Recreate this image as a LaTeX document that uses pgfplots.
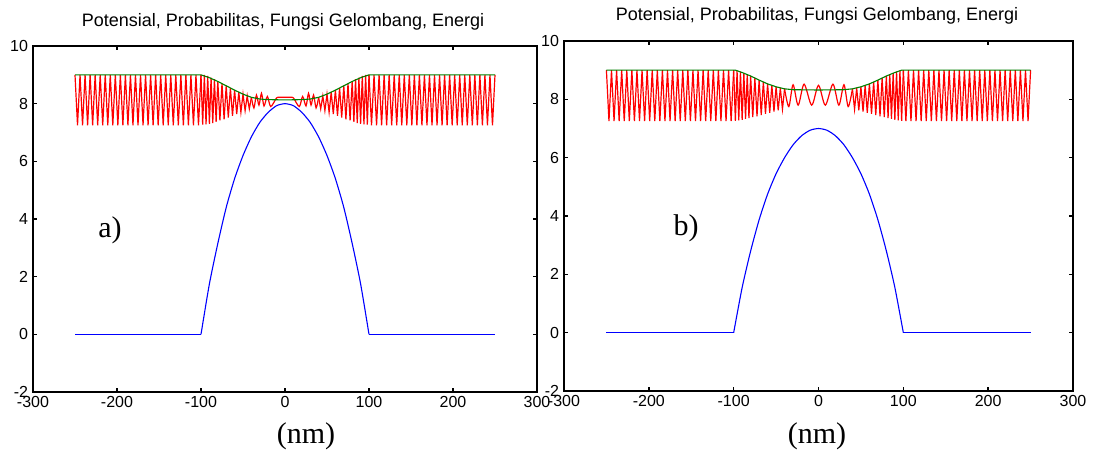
\documentclass[border=0pt]{standalone}
\usepackage{fontspec}
\setmainfont{Liberation Sans}
\newfontfamily\timesfont{Liberation Serif}
\usepackage{pgfplots}
\usepackage{pgfplotstable}
\pgfplotsset{compat=1.18}

\definecolor{mred}{RGB}{255,0,0}
\definecolor{mgreen}{RGB}{0,128,0}
\definecolor{mblue}{RGB}{0,0,255}

% wave function, outer parts (same in both panels)
\pgfplotstableread[row sep=\\]{x y\\
-250 9\\ -247 7.25\\ -244 9\\ -241 7.25\\ -238 9\\ -235 7.25\\ -232 9\\ -229 7.25\\ -226 9\\ -223 7.25\\
-220 9\\ -217 7.25\\ -214 9\\ -211 7.25\\ -208 9\\ -205 7.25\\ -202 9\\ -199 7.25\\ -196 9\\ -193 7.25\\
-190 9\\ -187 7.25\\ -184 9\\ -181 7.25\\ -178 9\\ -175 7.25\\ -172 9\\ -169 7.25\\ -166 9\\ -163 7.25\\
-160 9\\ -157 7.25\\ -154 9\\ -151 7.25\\ -148 9\\ -145 7.25\\ -142 9\\ -139 7.25\\ -136 9\\ -133 7.25\\
-130 9\\ -127 7.25\\ -124 9\\ -121 7.25\\ -118 9\\ -115 7.25\\ -112 9\\ -109 7.25\\ -106 9\\ -103 7.25\\
-100 9\\
}\outerleft
\pgfplotstableread[row sep=\\]{x y\\
100 9\\ 103 7.25\\ 106 9\\ 109 7.25\\ 112 9\\ 115 7.25\\ 118 9\\ 121 7.25\\ 124 9\\ 127 7.25\\
130 9\\ 133 7.25\\ 136 9\\ 139 7.25\\ 142 9\\ 145 7.25\\ 148 9\\ 151 7.25\\ 154 9\\ 157 7.25\\
160 9\\ 163 7.25\\ 166 9\\ 169 7.25\\ 172 9\\ 175 7.25\\ 178 9\\ 181 7.25\\ 184 9\\ 187 7.25\\
190 9\\ 193 7.25\\ 196 9\\ 199 7.25\\ 202 9\\ 205 7.25\\ 208 9\\ 211 7.25\\ 214 9\\ 217 7.25\\
220 9\\ 223 7.25\\ 226 9\\ 229 7.25\\ 232 9\\ 235 7.25\\ 238 9\\ 241 7.25\\ 244 9\\ 247 7.25\\
250 9\\
}\outerright

% panel a
\pgfplotstableread[row sep=\\]{x y\\
-100 9\\ -98 7.27\\ -96 9\\ -94 7.28\\ -92 8.96\\ -90 7.3\\ -88 8.9\\ -86 7.33\\ -84 8.85\\ -82 7.37\\
-80 8.78\\ -77.5 7.42\\ -75 8.7\\ -72.5 7.46\\ -70 8.62\\ -67.5 7.52\\ -65 8.55\\ -62.5 7.58\\ -60 8.47\\
-57.5 7.64\\ -55 8.4\\ -52.5 7.7\\ -50 8.33\\ -47.5 7.76\\ -45 8.27\\ -42.5 7.82\\ -40 8.22\\
}\transaL
\pgfplotstableread[row sep=\\]{x y\\
40 8.22\\ 42.5 7.82\\ 45 8.27\\ 47.5 7.76\\ 50 8.33\\ 52.5 7.7\\ 55 8.4\\ 57.5 7.64\\ 60 8.47\\
62.5 7.58\\ 65 8.55\\ 67.5 7.52\\ 70 8.62\\ 72.5 7.46\\ 75 8.7\\ 77.5 7.42\\ 80 8.78\\ 82 7.37\\
84 8.85\\ 86 7.33\\ 88 8.9\\ 90 7.3\\ 92 8.96\\ 94 7.28\\ 96 9\\ 98 7.27\\ 100 9\\
}\transaR
\pgfplotstableread[row sep=\\]{x y\\
-40 8.22\\ -37 7.85\\ -34 8.3\\ -31 7.95\\ -28 8.36\\ -25 7.92\\ -21 8.25\\ -17 7.9\\ -10 8.2\\ -6 8.22\\
6 8.22\\ 10 8.2\\ 17 7.9\\ 21 8.25\\ 25 7.92\\ 28 8.36\\ 31 7.95\\ 34 8.3\\ 37 7.85\\ 40 8.22\\
}\centera
\pgfplotstableread[row sep=\\]{x y\\
-250 9\\ -100 9\\ -90 8.9\\ -80 8.77\\ -70 8.62\\ -60 8.47\\ -50 8.33\\ -40 8.22\\ -30 8.16\\ -20 8.14\\
0 8.13\\ 20 8.14\\ 30 8.16\\ 40 8.22\\ 50 8.33\\ 60 8.47\\ 70 8.62\\ 80 8.77\\ 90 8.9\\ 100 9\\ 250 9\\
}\proba
\pgfplotstableread[row sep=\\]{x y\\
-100 0\\ -90 1.75\\ -80 3.15\\ -70 4.4\\ -60 5.4\\ -50 6.2\\ -40 6.85\\ -30 7.35\\ -20 7.7\\ -10 7.93\\
0 8\\ 10 7.93\\ 20 7.7\\ 30 7.35\\ 40 6.85\\ 50 6.2\\ 60 5.4\\ 70 4.4\\ 80 3.15\\ 90 1.75\\ 100 0\\
}\pota

% panel b
\pgfplotstableread[row sep=\\]{x y\\
-100 9\\ -98 7.26\\ -96 8.98\\ -94 7.28\\ -92 8.95\\ -90 7.3\\ -88 8.9\\ -86 7.33\\ -84 8.85\\ -82 7.36\\
-80 8.8\\ -77.5 7.39\\ -75 8.73\\ -72.5 7.42\\ -70 8.66\\ -67.5 7.46\\ -65 8.6\\ -62.5 7.5\\ -60 8.53\\
-57.5 7.54\\ -55 8.48\\ -52.5 7.58\\ -50 8.43\\ -47.5 7.62\\ -45 8.39\\ -42.5 7.66\\ -40 8.36\\
}\transbL
\pgfplotstableread[row sep=\\]{x y\\
40 8.36\\ 42.5 7.66\\ 45 8.39\\ 47.5 7.62\\ 50 8.43\\ 52.5 7.58\\ 55 8.48\\ 57.5 7.54\\ 60 8.53\\
62.5 7.5\\ 65 8.6\\ 67.5 7.46\\ 70 8.66\\ 72.5 7.42\\ 75 8.73\\ 77.5 7.39\\ 80 8.8\\ 82 7.36\\
84 8.85\\ 86 7.33\\ 88 8.9\\ 90 7.3\\ 92 8.95\\ 94 7.28\\ 96 8.98\\ 98 7.26\\ 100 9\\
}\transbR
\pgfplotstableread[row sep=\\]{x y\\
-40 8.36\\ -35 7.75\\ -30 8.5\\ -24 7.8\\ -17 8.52\\ -8 7.8\\ 0 8.48\\ 8 7.8\\ 17 8.52\\ 24 7.8\\
30 8.5\\ 35 7.75\\ 40 8.36\\
}\centerb
\pgfplotstableread[row sep=\\]{x y\\
-250 9\\ -98 9\\ -90 8.92\\ -80 8.8\\ -70 8.66\\ -60 8.53\\ -50 8.43\\ -40 8.36\\ -30 8.33\\ 0 8.32\\
30 8.33\\ 40 8.36\\ 50 8.43\\ 60 8.53\\ 70 8.66\\ 80 8.8\\ 90 8.92\\ 98 9\\ 250 9\\
}\probb
\pgfplotstableread[row sep=\\]{x y\\
-100 0\\ -90 1.55\\ -80 2.8\\ -70 3.87\\ -60 4.75\\ -50 5.45\\ -40 6.0\\ -30 6.44\\ -20 6.75\\ -10 6.94\\
0 7\\ 10 6.94\\ 20 6.75\\ 30 6.44\\ 40 6.0\\ 50 5.45\\ 60 4.75\\ 70 3.87\\ 80 2.8\\ 90 1.55\\ 100 0\\
}\potb

\pgfplotsset{panel/.style={
  scale only axis, anchor=south west,
  xmin=-300, xmax=300, ymin=-2, ymax=10,
  xtick={-300,-200,...,300}, ytick={-2,0,...,10},
  tick align=inside, major tick length=4pt,
  every axis/.append style={line width=2pt},
  axis line style={line width=2pt},
  every tick/.style={black, line width=1.4pt},
  tick label style={font=\fontsize{16}{16}\selectfont},
  /pgf/number format/assume math mode=true,
  xticklabel style={inner sep=3pt},
  yticklabel style={inner sep=4pt},
  wave/.style={mred, line width=1.2pt},
  pot/.style={mblue, line width=1.1pt},
  prob/.style={mgreen, line width=1.1pt},
}}

\begin{document}
\begin{tikzpicture}
\useasboundingbox (0,0) rectangle (1099pt,453pt);

\begin{axis}[panel, at={(33pt,61pt)}, width=504pt, height=346pt]
  \addplot[pot] coordinates {(-250,0) (-100,0)};
  \addplot[pot, smooth, tension=0.4] table {\pota};
  \addplot[pot] coordinates {(100,0) (250,0)};
  \addplot[wave] table {\outerleft};
  \addplot[wave] table {\transaL};
  \addplot[wave, smooth, tension=0.5] table {\centera};
  \addplot[wave] table {\transaR};
  \addplot[wave] table {\outerright};
  \addplot[prob] table {\proba};
\end{axis}

\begin{axis}[panel, at={(564pt,62pt)}, width=509pt, height=350pt]
  \addplot[pot] coordinates {(-250,0) (-100,0)};
  \addplot[pot, smooth, tension=0.4] table {\potb};
  \addplot[pot] coordinates {(100,0) (250,0)};
  \addplot[wave] table {\outerleft};
  \addplot[wave] table {\transbL};
  \addplot[wave, smooth, tension=0.5] table {\centerb};
  \addplot[wave] table {\transbR};
  \addplot[wave] table {\outerright};
  \addplot[prob] table {\probb};
\end{axis}

\node[font=\fontsize{18}{18}\selectfont] at (283pt,431pt) {Potensial, Probabilitas, Fungsi Gelombang, Energi};
\node[font=\fontsize{18}{18}\selectfont] at (817pt,437pt) {Potensial, Probabilitas, Fungsi Gelombang, Energi};
\node[font=\timesfont\fontsize{30}{30}\selectfont] at (306pt,17pt) {(nm)};
\node[font=\timesfont\fontsize{30}{30}\selectfont] at (817pt,17pt) {(nm)};
\node[font=\timesfont\fontsize{30}{30}\selectfont] at (110pt,223pt) {a)};
\node[font=\timesfont\fontsize{30}{30}\selectfont] at (686pt,225pt) {b)};
\end{tikzpicture}
\end{document}
